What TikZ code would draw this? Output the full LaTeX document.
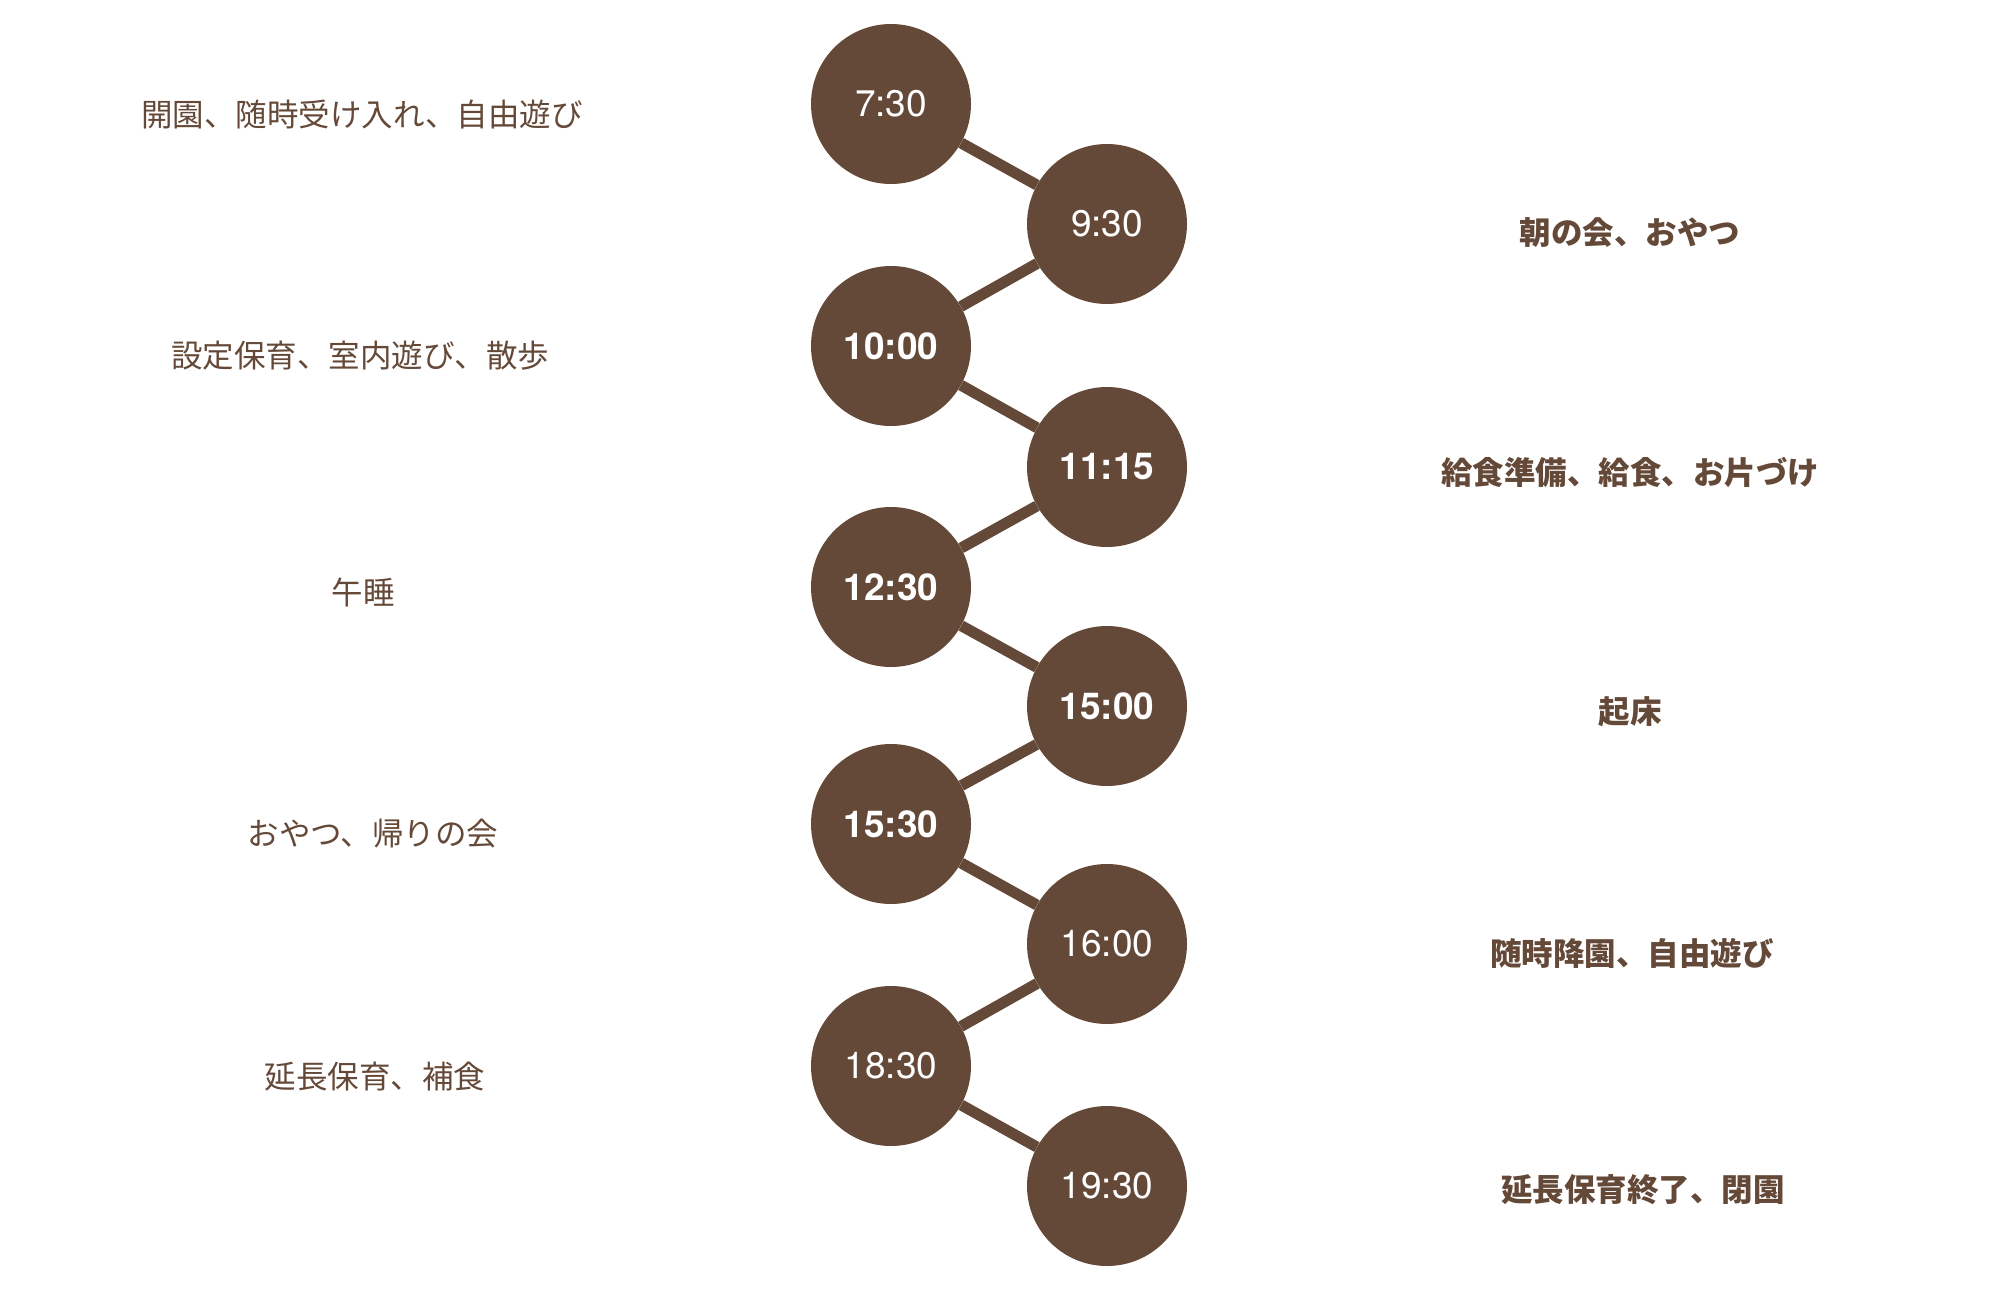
\documentclass[tikz,border=0pt]{standalone}
\usepackage{fontspec}
\usepackage{xcolor}
\setmainfont{TeX Gyre Heros}
\newfontfamily\jpfont{Noto Sans CJK JP}
\definecolor{cocoa}{RGB}{101,73,56}

\begin{document}
\begin{tikzpicture}[x=1pt,y=-1pt,
  dot/.style={circle,fill=cocoa,minimum size=160pt,inner sep=0pt,text=white,font=\fontsize{37}{40}\selectfont},
  link/.style={draw=cocoa,line width=11pt},
  act/.style={text=cocoa,font=\jpfont\fontsize{31.5}{34}\selectfont}]
\useasboundingbox (0,0) rectangle (2000,1298);
% times, left and right column
\node[dot] (t730) at (891,104) {7:30};
\node[dot] (t930) at (1107,224) {9:30};
\node[dot] (t1000) at (891,346) {\bfseries 10:00};
\node[dot] (t1115) at (1107,467) {\bfseries 11:15};
\node[dot] (t1230) at (891,587) {\bfseries 12:30};
\node[dot] (t1500) at (1107,706) {\bfseries 15:00};
\node[dot] (t1530) at (891,824) {\bfseries 15:30};
\node[dot] (t1600) at (1107,944) {16:00};
\node[dot] (t1830) at (891,1066) {18:30};
\node[dot] (t1930) at (1107,1186) {19:30};
\draw[link] (t730) -- (t930);
\draw[link] (t930) -- (t1000);
\draw[link] (t1000) -- (t1115);
\draw[link] (t1115) -- (t1230);
\draw[link] (t1230) -- (t1500);
\draw[link] (t1500) -- (t1530);
\draw[link] (t1530) -- (t1600);
\draw[link] (t1600) -- (t1830);
\draw[link] (t1830) -- (t1930);
% activities
\node[act] (a730) at (362,114) {開園、随時受け入れ、自由遊び};
\node[act] (a930) at (1630,233) {\bfseries 朝の会、おやつ};
\node[act] (a1000) at (360,356) {設定保育、室内遊び、散歩};
\node[act] (a1115) at (1630,473) {\bfseries 給食準備、給食、お片づけ};
\node[act] (a1230) at (363,592) {午睡};
\node[act] (a1500) at (1630,712) {\bfseries 起床};
\node[act] (a1530) at (373,834) {おやつ、帰りの会};
\node[act] (a1600) at (1632,953) {\bfseries 随時降園、自由遊び};
\node[act] (a1830) at (375,1077) {延長保育、補食};
\node[act] (a1930) at (1643,1190) {\bfseries 延長保育終了、閉園};
\end{tikzpicture}
\end{document}
